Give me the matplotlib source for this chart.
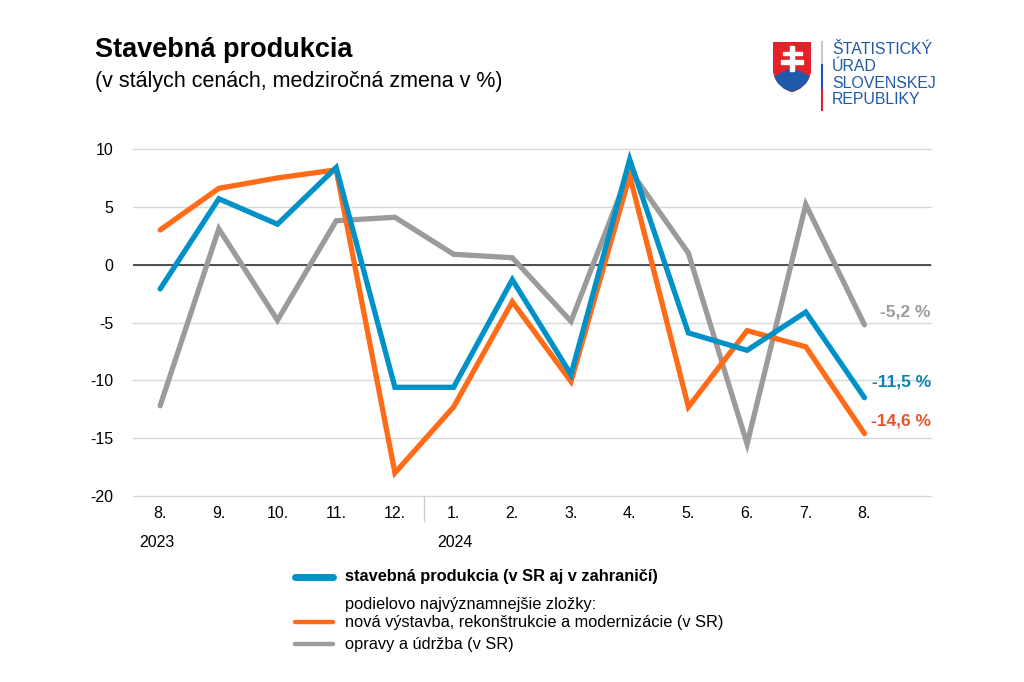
import matplotlib.pyplot as plt
from matplotlib.patches import Polygon, Rectangle
from matplotlib.lines import Line2D

plt.rcParams['font.family'] = ['Liberation Sans', 'DejaVu Sans']

# mesiace 8/2023 .. 8/2024
mesiace = ['8.', '9.', '10.', '11.', '12.', '1.', '2.', '3.', '4.', '5.', '6.', '7.', '8.']
roky = ['2023', '2024']
spolu = [-2.1, 5.7, 3.5, 8.4, -10.6, -10.6, -1.3, -9.5, 9.1, -5.9, -7.4, -4.1, -11.5]
nova = [3.0, 6.6, 7.5, 8.2, -18.0, -12.3, -3.2, -10.1, 7.7, -12.3, -5.7, -7.1, -14.6]
opravy = [-12.2, 3.1, -4.8, 3.8, 4.1, 0.9, 0.6, -4.9, 8.2, 1.0, -15.5, 5.2, -5.2]
koniec = ['-11,5 %', '-14,6 %', '-5,2 %']
leg_texty = ['stavebná produkcia (v SR aj v zahraničí)',
             'podielovo najvýznamnejšie zložky:',
             'nová výstavba, rekonštrukcie a modernizácie (v SR)',
             'opravy a údržba (v SR)']

modra = '#0091c8'
oranz = '#ff6b17'
siva = '#9b9b9b'

fig = plt.figure(figsize=(10.24, 6.82), dpi=100)
ax = fig.add_axes([0.13, 0.2727, 0.779, 0.5088])

x = list(range(len(mesiace)))
lw = 3.8
ax.plot(x, opravy, color=siva, lw=lw, solid_capstyle='round', solid_joinstyle='miter', zorder=3, clip_on=False)
ax.plot(x, nova, color=oranz, lw=lw, solid_capstyle='round', solid_joinstyle='miter', zorder=4, clip_on=False)
ax.plot(x, spolu, color=modra, lw=lw, solid_capstyle='round', solid_joinstyle='miter', zorder=5, clip_on=False)

ax.set_ylim(-20, 10)
ax.set_xlim(-0.46, 13.13)
ax.set_yticks([10, 5, 0, -5, -10, -15, -20])
ax.set_yticklabels(['10', '5', '0', '-5', '-10', '-15', '-20'], fontsize=11.5)
ax.set_xticks(x)
ax.set_xticklabels(mesiace, fontsize=11.5)
ax.tick_params(length=0, pad=7)
ax.tick_params(axis='y', pad=14)
ax.grid(axis='y', color='#d9d9d9', lw=1)
for gl in ax.get_ygridlines():
    gl.set_clip_on(False)
ax.axhline(0, color='#333333', lw=1.2, zorder=2)
for s in ax.spines.values():
    s.set_visible(False)
ax.set_axisbelow(True)

# oddelovac rokov
ax.plot([4.5, 4.5], [-20, -22.2], color='#cccccc', lw=1, clip_on=False)
ax.text(-0.36, -23.4, roky[0], fontsize=11.5, va='top', ha='left')
ax.text(4.72, -23.4, roky[1], fontsize=11.5, va='top', ha='left')

# popisky na konci
ax.text(13.13, spolu[-1] + 0.7, koniec[0], color='#0b82b0', fontsize=12.5, fontweight='bold', ha='right', va='bottom')
ax.text(13.13, nova[-1] + 0.4, koniec[1], color='#e9542c', fontsize=12.5, fontweight='bold', ha='right', va='bottom')
ax.text(13.13, opravy[-1] + 0.5, koniec[2], color=siva, fontsize=12.5, fontweight='bold', ha='right', va='bottom')

# nadpis
fig.text(95 / 1024, 1 - 50 / 682, 'Stavebná produkcia', fontsize=19.5, fontweight='bold', va='center')
fig.text(95 / 1024, 1 - 81 / 682, '(v stálych cenách, medziročná zmena v %)', fontsize=15.5, va='center')

# legenda
W, H = 1024, 682
def fx(px): return px / W
def fy(py): return 1 - py / H
leg = [(577, modra, leg_texty[0], 'bold'), (604, None, leg_texty[1], 'normal'),
       (622, oranz, leg_texty[2], 'normal'), (644, siva, leg_texty[3], 'normal')]
for py, c, t, w in leg:
    if c:
        fig.add_artist(Line2D([fx(295), fx(333)], [fy(py), fy(py)], color=c,
                              lw=5 if w == 'bold' else 3.2, solid_capstyle='round'))
    fig.text(fx(345), fy(py), t, fontsize=11.8, fontweight=w, va='center')

# logo
la = fig.add_axes([fx(773), fy(92), fx(38), 50 / H])
la.set_xlim(0, 40)
la.set_ylim(0, 52)
la.axis('off')
stit = [(0, 52), (40, 52), (40, 22), (36, 12), (28, 4), (20, 0), (12, 4), (4, 12), (0, 22)]
la.add_patch(Polygon(stit, closed=True, color='#e4202b'))
la.add_patch(Polygon([(2, 16), (8, 19), (14, 22), (20, 24), (26, 22), (32, 19), (38, 16),
                      (34, 9), (28, 4), (20, 1), (12, 4), (6, 9)], closed=True, color='#1f5aa8'))
la.add_patch(Rectangle((18, 22), 4, 26, color='white'))
la.add_patch(Rectangle((10, 38), 20, 4, color='white'))
la.add_patch(Rectangle((8, 29), 24, 4.5, color='white'))
fig.add_artist(Line2D([fx(822)] * 2, [fy(42), fy(65)], color='#c8c8c8', lw=1.5))
fig.add_artist(Line2D([fx(822)] * 2, [fy(65), fy(90)], color='#1f5aa8', lw=1.5))
fig.add_artist(Line2D([fx(822)] * 2, [fy(90), fy(110)], color='#e4202b', lw=1.5))
for i, t in enumerate(['ŠTATISTICKÝ', 'ÚRAD', 'SLOVENSKEJ', 'REPUBLIKY']):
    fig.text(fx(832), fy(50 + i * 16.5), t, fontsize=11.4, color='#1f5aa8', va='center', ha='left')

fig.savefig('out.png', dpi=100, facecolor='white')
